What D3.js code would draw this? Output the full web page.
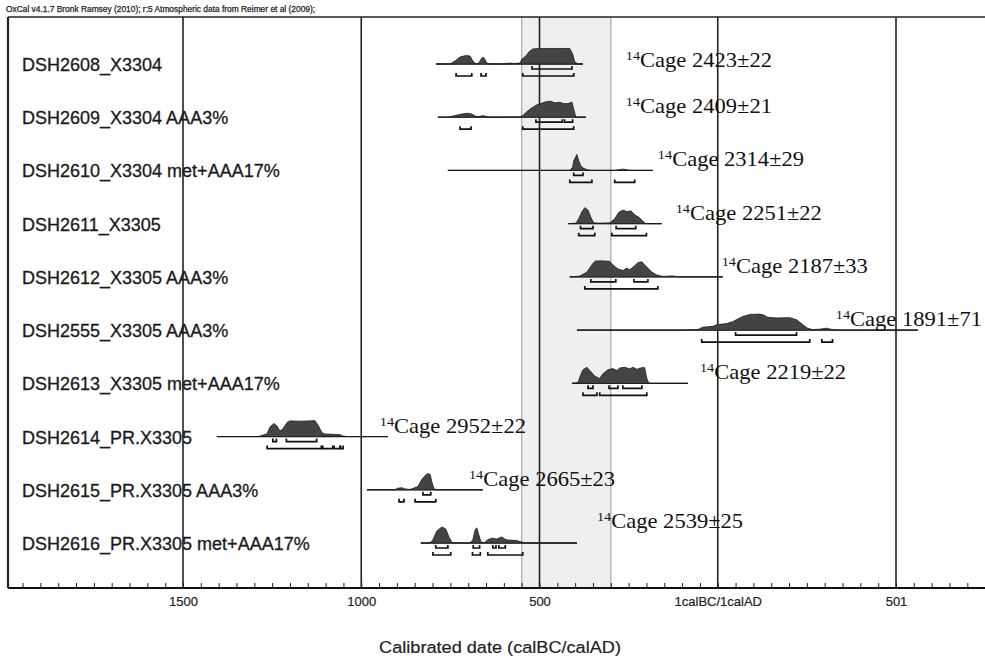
<!DOCTYPE html>
<html>
<head>
<meta charset="utf-8">
<script src="https://cdn.jsdelivr.net/npm/d3@7"></script>
<style>
  body { margin: 0; background: #fff; }
</style>
</head>
<body>
<div id="chart"></div>
<script>
// Sample names, top to bottom
const sampleNames = [
  "DSH2608_X3304",
  "DSH2609_X3304 AAA3%",
  "DSH2610_X3304 met+AAA17%",
  "DSH2611_X3305",
  "DSH2612_X3305 AAA3%",
  "DSH2555_X3305 AAA3%",
  "DSH2613_X3305 met+AAA17%",
  "DSH2614_PR.X3305",
  "DSH2615_PR.X3305 AAA3%",
  "DSH2616_PR.X3305 met+AAA17%"
];

// Radiocarbon ages (BP)
const ageLabels = ["2423±22", "2409±21", "2314±29", "2251±22", "2187±33",
                   "1891±71", "2219±22", "2952±22", "2665±23", "2539±25"];

// Where the age text starts, in calBC years (negative = AD)
const ageTextYears = [258, 258, 168, 118, -11, -331, 50, 948, 698, 339];

// Calibrated probability, [calBC year, relative probability]
const distributions = [
  [[790,0],[751,0],[737,.19],[723,.44],[706,.53],[695,.5],[687,.19],[678,0],[670,.06],[662,.38],[656,.4],[648,.06],[639,0],[597,0],[583,.06],[569,.03],[555,.06],[549,.31],[538,.5],[530,.75],[519,.94],[499,.97],[471,.97],[443,.97],[415,.97],[407,.62],[401,.12],[392,0],[378,0]],
  [[785,0],[757,0],[737,.1],[718,.2],[701,.25],[690,.2],[678,.05],[667,.05],[659,.1],[650,.05],[639,0],[555,.02],[547,.1],[535,.35],[524,.55],[510,.75],[496,.85],[482,.97],[468,1],[457,.9],[443,.93],[432,.85],[420,.85],[409,.95],[404,.5],[398,0],[370,0]],
  [[757,0],[415,0],[407,.2],[404,.6],[395,1],[390,.6],[384,.3],[378,.15],[367,.05],[355,0],[289,0],[275,.06],[264,.08],[252,.03],[240,0],[182,0]],
  [[420,0],[398,.03],[390,.3],[381,.75],[373,1],[364,.85],[356,.4],[348,.05],[331,.03],[303,.05],[289,.3],[278,.7],[266,.85],[255,.75],[244,.8],[233,.55],[221,.4],[210,.15],[202,0],[157,0]],
  [[415,0],[387,.05],[367,.3],[350,.85],[342,1],[322,1],[303,.97],[294,.75],[280,.5],[266,.4],[255,.55],[247,.45],[233,.7],[224,.88],[213,.95],[205,.75],[196,.55],[185,.3],[171,.12],[154,.03],[126,.06],[115,.02],[107,0],[-14,0]],
  [[395,0],[100,0],[56,.03],[42,.18],[14,.24],[0,.35],[-25,.41],[-42,.53],[-67,.82],[-90,.98],[-118,1],[-129,.94],[-140,.8],[-165,.76],[-202,.78],[-221,.65],[-238,.35],[-252,.12],[-266,.03],[-286,.06],[-306,.12],[-322,.03],[-336,0],[-561,0]],
  [[409,0],[392,.05],[385,.5],[378,.85],[367,1],[359,.8],[345,.45],[331,.3],[322,.6],[308,.85],[294,.92],[283,.8],[275,.96],[261,1],[247,.9],[238,1],[227,.88],[213,.98],[205,.98],[199,.3],[193,0],[84,0]],
  [[1405,0],[1290,0],[1284,.03],[1264,.18],[1256,.6],[1245,.82],[1236,.65],[1228,.35],[1220,.47],[1208,.88],[1200,.98],[1172,.96],[1144,.98],[1130,1],[1121,.7],[1110,.24],[1102,.16],[1079,.14],[1060,.12],[1051,.03],[1040,0],[925,0]],
  [[984,0],[906,0],[897,.1],[886,.13],[877,.05],[863,.02],[841,.2],[830,.65],[816,1],[807,.97],[802,.5],[796,.07],[788,0],[659,0]],
  [[833,0],[807,0],[799,.2],[788,.75],[774,1],[763,.88],[754,.38],[746,.05],[740,0],[695,0],[687,.2],[681,.8],[676,.95],[670,.5],[664,.06],[656,0],[645,.2],[634,.3],[620,.25],[606,.38],[594,.2],[583,.18],[564,.15],[549,.06],[541,0],[395,0]]
];

// 68.2% probability ranges [from, to] calBC
const ranges68 = [
  [[521,409]],
  [[510,436],[430,407]],
  [[404,378]],
  [[385,350],[285,230]],
  [[356,286],[235,196]],
  [[-50,-221]],
  [[364,350],[305,280],[266,213]],
  [[1248,1238],[1210,1125]],
  [[827,805]],
  [[791,757],[686,668],[631,622],[614,596]]
];

// 95.4% probability ranges [from, to] calBC
const ranges95 = [
  [[734,690],[664,650],[547,404]],
  [[723,692],[547,404]],
  [[415,353],[289,233]],
  [[390,345],[297,200]],
  [[373,168]],
  [[45,-258],[-292,-322]],
  [[378,339],[331,199]],
  [[1264,1112],[1108,1080],[1076,1060],[1058,1051]],
  [[894,880],[849,791]],
  [[799,749],[688,666],[645,547]]
];

const axisTicks = [1500, 1000, 500, 0, -500];
const axisTickLabels = ["1500", "1000", "500", "1calBC/1calAD", "501"];
const shadedBand = [550, 300];

const titleText = "OxCal v4.1.7 Bronk Ramsey (2010); r:5 Atmospheric data from Reimer et al (2009);";
const xAxisTitle = "Calibrated date (calBC/calAD)";

const width = 985, height = 659;
const plot = { left: 8, top: 17, right: 985, bottom: 588 };

const svg = d3.select('#chart').append('svg')
  .attr('width', width)
  .attr('height', height)
  .style('display', 'block');

const x = d3.scaleLinear().domain([1500, -500]).range([183, 896]);
const y = d3.scalePoint().domain(sampleNames).range([64, 543]);
const h = d3.scaleLinear().domain([0, 1]).range([0, 16]);

// shaded band
svg.append('rect')
  .attr('x', x(shadedBand[0]))
  .attr('y', plot.top)
  .attr('width', x(shadedBand[1]) - x(shadedBand[0]))
  .attr('height', plot.bottom - plot.top)
  .attr('fill', '#efefef');
svg.selectAll('line.band-edge')
  .data(shadedBand)
  .join('line')
  .attr('class', 'band-edge')
  .attr('x1', d => x(d)).attr('x2', d => x(d))
  .attr('y1', plot.top).attr('y2', plot.bottom)
  .attr('stroke', '#a8a8a8')
  .attr('stroke-width', 1.2);

// grid lines at major ticks
svg.selectAll('line.grid')
  .data(axisTicks)
  .join('line')
  .attr('class', 'grid')
  .attr('x1', d => x(d)).attr('x2', d => x(d))
  .attr('y1', plot.top).attr('y2', plot.bottom)
  .attr('stroke', '#222')
  .attr('stroke-width', 1.6);

// frame
svg.append('line')
  .attr('x1', plot.left).attr('x2', plot.right)
  .attr('y1', plot.top).attr('y2', plot.top)
  .attr('stroke', '#222').attr('stroke-width', 1.6);
svg.append('line')
  .attr('x1', plot.left).attr('x2', plot.left)
  .attr('y1', plot.top).attr('y2', plot.bottom)
  .attr('stroke', '#222').attr('stroke-width', 2.2);

svg.append('text')
  .attr('x', 6)
  .attr('y', 12)
  .attr('font-family', 'Liberation Sans, Arial, sans-serif')
  .attr('font-size', 8.4)
  .attr('fill', '#222')
  .attr('stroke', '#222')
  .attr('stroke-width', 0.25)
  .text(titleText);

// rows
const rows = sampleNames.map((name, i) => ({
  name,
  age: ageLabels[i],
  ageYear: ageTextYears[i],
  dist: distributions[i],
  r68: ranges68[i],
  r95: ranges95[i]
}));

const area = d3.area()
  .x(d => x(d[0]))
  .y0(0)
  .y1(d => -h(d[1]));

const rowG = svg.selectAll('g.row')
  .data(rows)
  .join('g')
  .attr('class', 'row')
  .attr('transform', d => `translate(0,${y(d.name)})`);

rowG.append('line')
  .attr('x1', d => x(d.dist[0][0]))
  .attr('x2', d => x(d.dist[d.dist.length - 1][0]))
  .attr('y1', 0).attr('y2', 0)
  .attr('stroke', '#2a2a2a')
  .attr('stroke-width', 1.3);

rowG.append('path')
  .attr('d', d => area(d.dist))
  .attr('fill', '#444')
  .attr('stroke', '#1a1a1a')
  .attr('stroke-width', 0.8);

function bracket(r, yy) {
  const a = x(r[0]), b = x(r[1]);
  return `M${a},${yy - 3}L${a},${yy}L${b},${yy}L${b},${yy - 3}`;
}

rowG.each(function (d) {
  const g = d3.select(this);
  g.selectAll('path.r68')
    .data(d.r68)
    .join('path')
    .attr('class', 'r68')
    .attr('d', r => bracket(r, 5))
    .attr('fill', 'none')
    .attr('stroke', '#111')
    .attr('stroke-width', 1.7);
  g.selectAll('path.r95')
    .data(d.r95)
    .join('path')
    .attr('class', 'r95')
    .attr('d', r => bracket(r, 12))
    .attr('fill', 'none')
    .attr('stroke', '#111')
    .attr('stroke-width', 1.7);
});

// sample labels
rowG.append('text')
  .attr('x', 22)
  .attr('y', 7)
  .attr('font-family', 'Liberation Sans, Arial, sans-serif')
  .attr('font-size', 18)
  .attr('fill', '#1a1a1a')
  .attr('stroke', '#1a1a1a')
  .attr('stroke-width', 0.3)
  .text(d => d.name);

// age labels (OxCal nudges the first and last ones off the usual spot)
const ageDy = (i) => i === 0 ? 3 : i === rows.length - 1 ? -15 : -4;
const ageText = rowG.append('text')
  .attr('transform', (d, i) => `translate(${x(d.ageYear)},${ageDy(i)}) scale(1.1,1)`)
  .attr('font-family', 'Liberation Serif, Times New Roman, serif')
  .attr('fill', '#111');
ageText.append('tspan')
  .attr('font-size', 13)
  .attr('dy', -7)
  .text('14');
ageText.append('tspan')
  .attr('font-size', 20.5)
  .attr('dy', 7)
  .text(d => 'Cage ' + d.age);

// axis
const minorTicks = d3.range(-700, 2000, 50).filter(v => x(v) > plot.left + 2 && x(v) < plot.right);
svg.append('g')
  .attr('transform', `translate(0,${plot.bottom})`)
  .call(d3.axisTop(x).tickValues(minorTicks).tickSize(5).tickFormat(''))
  .call(g => g.select('.domain').remove())
  .call(g => g.selectAll('.tick line').attr('stroke', '#222').attr('stroke-width', 1));

const xAxis = svg.append('g')
  .attr('transform', `translate(0,${plot.bottom})`)
  .call(d3.axisBottom(x).tickValues(axisTicks).tickSize(0).tickPadding(9)
    .tickFormat((d, i) => axisTickLabels[i]));
xAxis.select('.domain').remove();
xAxis.selectAll('.tick text')
  .attr('font-family', 'Liberation Sans, Arial, sans-serif')
  .attr('font-size', 13)
  .attr('fill', '#222')
  .attr('stroke', '#222')
  .attr('stroke-width', 0.2);

svg.append('line')
  .attr('x1', plot.left).attr('x2', plot.right)
  .attr('y1', plot.bottom).attr('y2', plot.bottom)
  .attr('stroke', '#111').attr('stroke-width', 2);

svg.append('text')
  .attr('transform', `translate(500,653) scale(1.1,1)`)
  .attr('text-anchor', 'middle')
  .attr('font-family', 'Liberation Sans, Arial, sans-serif')
  .attr('font-size', 16.5)
  .attr('fill', '#222')
  .attr('stroke', '#222')
  .attr('stroke-width', 0.2)
  .text(xAxisTitle);
</script>
</body>
</html>
